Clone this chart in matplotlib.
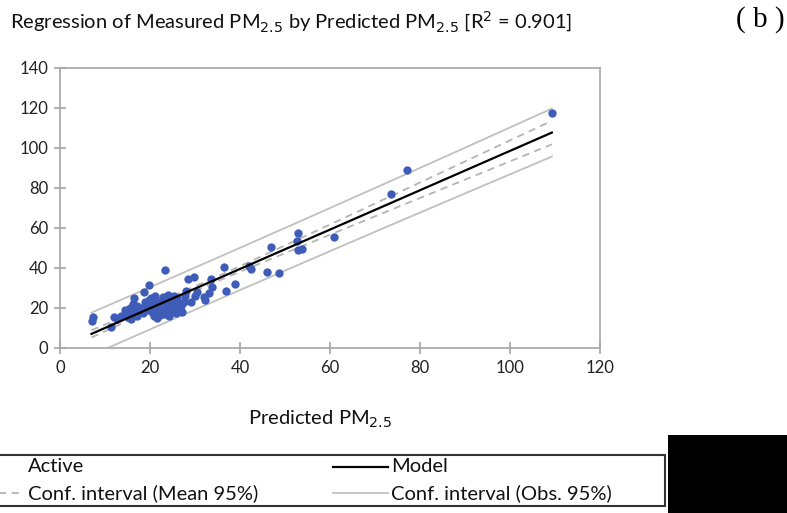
import matplotlib.pyplot as plt
import numpy as np
from matplotlib.lines import Line2D
from matplotlib.patches import Rectangle

plt.rcParams["font.family"] = ["Lato", "DejaVu Sans"]

# predicted / measured PM2.5
predicted = np.array([
    14.5, 15.0, 15.5, 16.0, 15.2, 16.8, 17.5, 17.0, 18.0, 18.5, 19.0, 19.5, 20.0, 20.5,
    19.8, 21.0, 21.5, 22.0, 22.5, 23.0, 23.5, 24.0, 24.5, 25.0, 25.5, 26.0, 24.8, 25.8,
    26.5, 23.2, 22.3, 24.2, 25.3, 26.2, 21.2, 22.8, 20.8, 18.2, 17.2, 16.2, 19.2, 23.8,
    26.8, 27.5, 15.8, 14.8, 13.5, 20.2, 18.8, 22.0, 25.0, 24.0, 27.0,
    7.0, 7.3, 11.3, 11.9, 12.6, 16.5, 18.7, 19.8, 23.3, 21.5, 28.5, 29.8, 33.6, 33.8,
    33.1, 31.9, 32.2, 29.1, 36.5, 36.8, 38.9, 41.9, 42.4, 46.1, 48.7, 46.9, 52.6, 52.8,
    52.8, 53.8, 60.9, 73.5, 77.0, 109.3, 28.0, 30.5, 30.0, 27.8,
])
measured = np.array([
    19.0, 18.0, 20.0, 17.0, 15.5, 19.5, 18.0, 21.0, 20.0, 17.5, 22.0, 19.0, 21.0, 18.0,
    24.0, 22.0, 20.0, 23.0, 19.0, 21.0, 24.0, 22.0, 20.0, 23.0, 21.0, 25.0, 18.0, 17.5,
    19.0, 17.0, 16.5, 16.0, 26.0, 22.0, 26.0, 25.5, 16.0, 19.0, 16.0, 22.0, 20.0, 19.0,
    21.0, 23.0, 14.5, 17.0, 16.0, 25.0, 23.0, 18.0, 24.5, 26.5, 18.0,
    13.7, 15.7, 10.5, 15.7, 14.5, 24.8, 27.8, 31.5, 39.0, 14.8, 34.3, 35.3, 34.3, 30.3,
    27.7, 25.3, 24.0, 22.8, 40.3, 28.7, 32.0, 41.2, 39.3, 37.8, 37.7, 50.3, 53.7, 57.7,
    49.0, 49.5, 55.5, 77.0, 89.0, 117.7, 28.5, 28.0, 26.0, 26.0,
])

x_ticks = [0, 20, 40, 60, 80, 100, 120]
y_ticks = [0, 20, 40, 60, 80, 100, 120, 140]

# ordinary least squares fit with 95% bands
n = len(predicted)
slope, intercept = np.polyfit(predicted, measured, 1)
resid = measured - (slope * predicted + intercept)
s = np.sqrt(np.sum(resid ** 2) / (n - 2))
xbar = predicted.mean()
sxx = np.sum((predicted - xbar) ** 2)
t = 1.986
xf = np.linspace(predicted.min(), predicted.max(), 200)
yf = slope * xf + intercept
se_mean = s * np.sqrt(1 / n + (xf - xbar) ** 2 / sxx)
se_obs = s * np.sqrt(1 + 1 / n + (xf - xbar) ** 2 / sxx)

W, H = 787, 513
fig = plt.figure(figsize=(W / 100, H / 100), dpi=100)
ax = fig.add_axes([60 / W, 1 - 348 / H, 540 / W, 280 / H])

grey = "#A6A6A6"
ax.plot(xf, yf + t * se_obs, color="#C0C0C0", lw=1.3)
ax.plot(xf, yf - t * se_obs, color="#C0C0C0", lw=1.3)
ax.plot(xf, yf + t * se_mean, color="#B4B4B4", lw=1.3, dashes=(4, 3))
ax.plot(xf, yf - t * se_mean, color="#B4B4B4", lw=1.3, dashes=(4, 3))
ax.scatter(predicted, measured, s=36, color="#3F5DB8", zorder=3, linewidths=0)
ax.plot(xf, yf, color="black", lw=1.6, zorder=4)

ax.set_xlim(0, 120)
ax.set_ylim(0, 140)
ax.set_xticks(x_ticks)
ax.set_yticks(y_ticks)
for sp in ax.spines.values():
    sp.set_color(grey)
    sp.set_linewidth(1.2)
ax.tick_params(direction="inout", length=9, width=1.2, color=grey,
               labelsize=12, labelcolor="#222222", pad=4)

fig.text(10 / W, 1 - 22 / H,
         r"Regression of Measured PM$_{2.5}$ by Predicted PM$_{2.5}$ [R$^{2}$ = 0.901]",
         fontsize=14.5, va="center", ha="left", color="#111111")
fig.text(760 / W, 1 - 20 / H, "( b )", family=["Liberation Serif"], fontsize=21,
         ha="center", va="center")
fig.text(320 / W, 1 - 419 / H, r"Predicted PM$_{2.5}$", fontsize=14.5, ha="center",
         va="center", color="#111111")

# legend drawn by hand, left side runs off the page
fig.add_artist(Rectangle((-2 / W, 1 - 506 / H), 667 / W, 51 / H, transform=fig.transFigure,
                         fill=False, edgecolor="#333333", lw=1.5))
fig.add_artist(Rectangle((668 / W, 0), 130 / W, 78 / H, transform=fig.transFigure,
                         facecolor="black", edgecolor="none"))
r1, r2 = 1 - 467 / H, 1 - 493 / H
fig.add_artist(Line2D([-10 / W, 22 / W], [r2, r2], transform=fig.transFigure,
                      color="#B4B4B4", lw=1.3, dashes=(4, 3)))
fig.add_artist(Line2D([333 / W, 388 / W], [r1, r1], transform=fig.transFigure,
                      color="black", lw=1.6))
fig.add_artist(Line2D([333 / W, 388 / W], [r2, r2], transform=fig.transFigure,
                      color="#C0C0C0", lw=1.3))
for xx, yy, lab in [(28, r1, "Active"), (391, r1, "Model"),
                    (28, r2, "Conf. interval (Mean 95%)"), (391, r2, "Conf. interval (Obs. 95%)")]:
    fig.text(xx / W, yy, lab, fontsize=14.5, va="center", ha="left", color="#111111")

fig.savefig("out.png", dpi=100)
